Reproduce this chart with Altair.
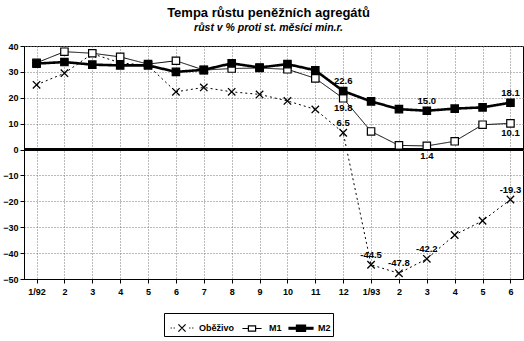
import altair as alt
import pandas as pd

months = ["1/92", "2/92", "3/92", "4/92", "5/92", "6/92", "7/92", "8/92", "9/92",
          "10/92", "11/92", "12/92", "1/93", "2/93", "3/93", "4/93", "5/93", "6/93"]
obezivo = [25, 29.5, 37, 33.5, 32.5, 22.3, 24, 22.3, 21.3, 18.8, 15.5, 6.5,
           -44.5, -47.8, -42.2, -33, -27.5, -19.3]
m1 = [33.5, 37.8, 37.2, 35.8, 33, 34.3, 30.7, 31.3, 31.5, 31, 27.5, 19.8,
      7, 1.6, 1.4, 3.2, 9.6, 10.1]
m2 = [33.2, 33.8, 32.8, 32.5, 32.5, 30, 30.8, 33.3, 31.7, 33, 30.6, 22.6,
      18.6, 15.6, 15.0, 15.8, 16.3, 18.1]
series_names = ["Oběživo", "M1", "M2"]
y_ticks = [-50, -40, -30, -20, -10, 0, 10, 20, 30, 40]

label_month = ["12/92", "3/93", "6/93", "1/93", "2/93", "3/93", "6/93", "12/92",
               "12/92", "3/93", "6/93"]
label_value = [22.6, 15.0, 18.1, -44.5, -47.8, -42.2, -19.3, 6.5,
               19.8, 1.4, 10.1]
label_text = ["22.6", "15.0", "18.1", "-44.5", "-47.8", "-42.2", "-19.3", "6.5",
              "19.8", "1.4", "10.1"]
label_side = ["above"] * 8 + ["below"] * 3

rows = []
for name, vals in zip(series_names, [obezivo, m1, m2]):
    for m, v in zip(months, vals):
        rows.append({"month": m, "value": v, "series": name})
df = pd.DataFrame(rows)
labels = pd.DataFrame({"month": label_month, "value": label_value,
                       "text": label_text, "side": label_side})

FONT = "Liberation Sans"
NB = "\u00a0"
axis_common = dict(title=None, grid=True, gridColor="#777", gridDash=[1, 2],
                   gridWidth=1, gridOpacity=1, labelFont=FONT, labelFontSize=9,
                   labelFontWeight="bold", labelColor="black", domainColor="black",
                   tickColor="black", tickSize=4, labelOverlap=False)
x_axis = alt.Axis(labelAngle=0, labelPadding=4,
                  labelExpr="indexof(datum.value, '1/') == 0 ? datum.value : split(datum.value, '/')[0]",
                  **axis_common)
y_axis = alt.Axis(values=y_ticks, labelPadding=2, **axis_common)
x_enc = alt.X("month:O", sort=months, scale=alt.Scale(type="point", padding=0.45), axis=x_axis)
y_scale = alt.Scale(domain=[-50, 40], nice=False, zero=False)
y_enc = alt.Y("value:Q", scale=y_scale, axis=y_axis)

X_PATH = "M-1,-1L1,1M-1,1L1,-1"

# legend symbols: line segment with marker (path units: 1 = half symbol width)
P_OB = ("M-0.95,0L-0.85,0M-0.7,0L-0.6,0M0.6,0L0.7,0M0.85,0L0.95,0"
        "M-0.3,-0.3L0.3,0.3M-0.3,0.3L0.3,-0.3")
P_M1 = "M-0.8,0L-0.3,0M0.3,0L0.8,0M-0.3,-0.22L0.3,-0.22L0.3,0.22L-0.3,0.22Z"
P_M2 = ("M-1,-0.08L1,-0.08L1,0.08L-1,0.08Z"
        "M-0.38,-0.26L0.38,-0.26L0.38,0.26L-0.38,0.26Z")

legend = alt.Legend(
    title=NB * 3, titleOrient="left", titlePadding=3, titleFont=FONT,
    titleFontSize=9, titleFontWeight="bold",
    orient="none", legendX=140, legendY=267,
    direction="horizontal", strokeColor="black", padding=2, columnPadding=4,
    symbolSize=576, labelOffset=4, symbolStrokeColor="black", symbolStrokeWidth=1.2,
    symbolOpacity=1,
    labelFont=FONT, labelFontSize=9, labelFontWeight="bold", labelColor="black",
    labelExpr="datum.label === 'M2' ? 'M2%s' : (datum.label === 'M1' ? 'M1%s' : datum.label)"
              % (NB * 11, NB * 6),
)

base = alt.Chart(df)


def series_line(name, dash, width):
    return base.transform_filter(alt.datum.series == name).mark_line(
        color="black", strokeDash=dash, strokeWidth=width).encode(x=x_enc, y=y_enc)


line_ob = series_line("Oběživo", [2, 3], 1)
line_m1 = series_line("M1", [1, 0], 1)
line_m2 = series_line("M2", [1, 0], 2.6)

zero = base.mark_rule(color="black", strokeWidth=1.6).encode(
    y=alt.Y(datum=0, scale=y_scale, axis=y_axis))

pts_ob = base.transform_filter(alt.datum.series == "Oběživo").mark_point(
    shape=X_PATH, filled=False, stroke="black", strokeWidth=1.3, size=55, opacity=1
).encode(x=x_enc, y=y_enc)
pts_m1 = base.transform_filter(alt.datum.series == "M1").mark_point(
    shape="square", filled=True, fill="white", stroke="black", strokeWidth=1.2,
    size=55, opacity=1).encode(x=x_enc, y=y_enc)
pts_m2 = base.transform_filter(alt.datum.series == "M2").mark_point(
    shape="square", filled=True, fill="black", stroke="black", strokeWidth=1.2,
    size=55, opacity=1).encode(x=x_enc, y=y_enc)

legend_layer = base.transform_filter("datum.value > 1000").mark_point(
    filled=True, strokeWidth=1.2
).encode(
    x=x_enc, y=y_enc,
    shape=alt.Shape("series:N", scale=alt.Scale(domain=series_names, range=[P_OB, P_M1, P_M2]),
                    legend=legend),
    fill=alt.Fill("series:N", scale=alt.Scale(domain=series_names, range=["white", "white", "black"]),
                  legend=legend),
    stroke=alt.Stroke("series:N", scale=alt.Scale(domain=series_names, range=["black", "black", "black"]),
                      legend=legend),
)

txt_common = dict(font=FONT, fontSize=9.5, fontWeight="bold", color="black")
above = alt.Chart(labels).transform_filter("datum.side == 'above'").mark_text(
    dy=-10, **txt_common).encode(x=x_enc, y=y_enc, text="text:N")
below = alt.Chart(labels).transform_filter("datum.side == 'below'").mark_text(
    dy=10, **txt_common).encode(x=x_enc, y=y_enc, text="text:N")

chart = alt.layer(line_ob, line_m1, line_m2, zero, pts_ob, pts_m1, pts_m2,
                  legend_layer, above, below).properties(
    width=499, height=233,
    autosize=alt.AutoSizeParams(type="none"),
    padding={"left": 24, "top": 46, "right": 1, "bottom": 62},
    background="white",
    title=alt.TitleParams("Tempa růstu peněžních agregátů",
                          subtitle="růst v % proti st. měsíci min.r.",
                          font=FONT, fontSize=13, fontWeight="bold", color="black",
                          subtitleFont=FONT, subtitleFontSize=10.5,
                          subtitleFontStyle="italic", subtitleFontWeight="bold",
                          subtitleColor="black", subtitlePadding=3,
                          anchor="middle", offset=9, dx=-5),
).configure_view(stroke="black", strokeWidth=1)

chart.save("out.html", embed_options={"renderer": "svg", "actions": False})
